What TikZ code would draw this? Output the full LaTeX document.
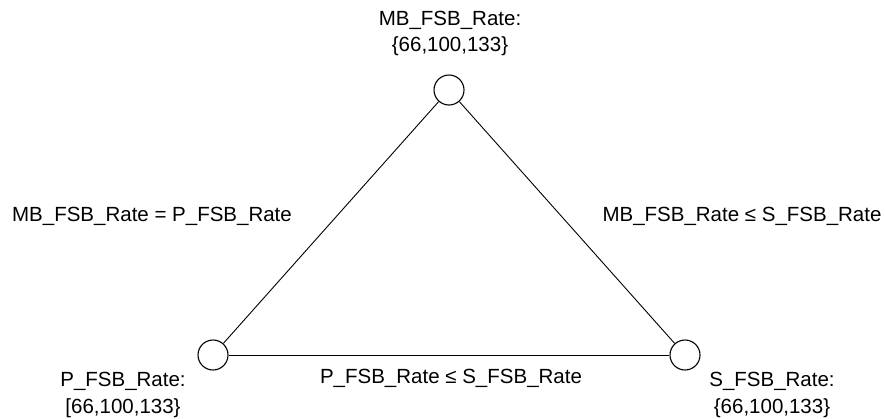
\documentclass[tikz,border=0pt]{standalone}
\usepackage{fontspec}
\setmainfont{Liberation Sans}
\begin{document}
\begin{tikzpicture}[x=1pt,y=-1pt,
  vert/.style={circle,draw,line width=1.1pt,minimum size=30pt,inner sep=0pt,fill=white},
  lbl/.style={font=\fontsize{20.5}{24}\selectfont,inner sep=0pt,anchor=center},
  edge/.style={line width=0.9pt}]
\useasboundingbox (0,0) rectangle (885,418);
\node[vert] (mb) at (449,90) {};
\node[vert] (p) at (213,355) {};
\node[vert] (s) at (685,355) {};
\draw[edge] (mb) -- (p);
\draw[edge] (mb) -- (s);
\draw[edge] (p) -- (s);
\node[lbl] (mbl1) at (450,20) {MB\_FSB\_Rate:};
\node[lbl] (mbl2) at (450,46) {\{66,100,133\}};
\node[lbl] (pl1) at (123,381) {P\_FSB\_Rate:};
\node[lbl] (pl2) at (123,408) {[66,100,133\}};
\node[lbl] (sl1) at (772,381) {S\_FSB\_Rate:};
\node[lbl] (sl2) at (772,408) {\{66,100,133\}};
\node[lbl] (e1) at (152,216) {MB\_FSB\_Rate = P\_FSB\_Rate};
\node[lbl] (e2) at (742,216) {MB\_FSB\_Rate ≤ S\_FSB\_Rate};
\node[lbl] (e3) at (451,378) {P\_FSB\_Rate ≤ S\_FSB\_Rate};
\end{tikzpicture}
\end{document}
